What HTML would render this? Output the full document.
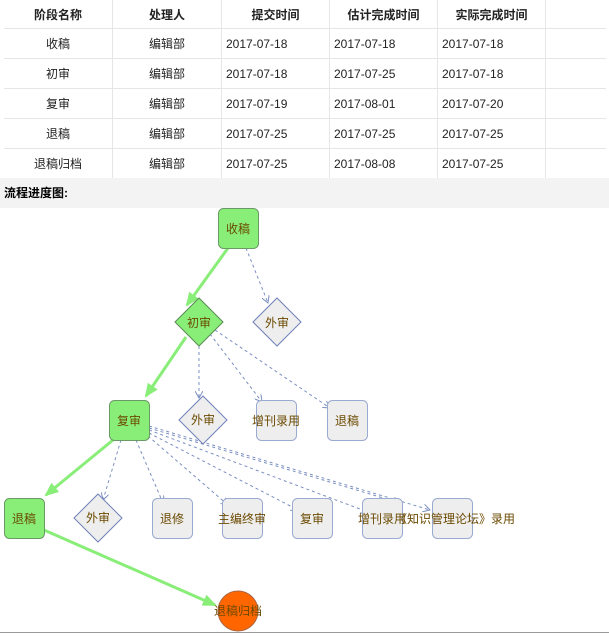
<!DOCTYPE html>
<html><head><meta charset="utf-8"><style>
body{margin:0;width:609px;height:643px;background:#fff;font-family:"Liberation Sans","Noto Sans CJK SC",sans-serif;position:relative;overflow:hidden}
table{position:absolute;left:4px;top:0;border-collapse:collapse;font-size:12px;color:#222}
td{height:29px;border-right:1px solid #e6e6e6;border-bottom:1px solid #e6e6e6;padding:0}
td.c{text-align:center}td.l{padding-left:4px}
th{height:28px;font-weight:bold;text-align:center;border-right:1px solid #e6e6e6;border-bottom:1px solid #e6e6e6;padding:0}
.band{position:absolute;left:0;top:178px;width:609px;height:30px;background:#f3f3f3;font-size:12px;font-weight:bold;line-height:30px;padding-left:4px;box-sizing:border-box}
.line{position:absolute;left:0;top:632px;width:609px;height:1px;background:#999}
svg{position:absolute;left:0;top:0}
</style></head><body>
<table>
<tr><th style="width:108px">阶段名称</th><th style="width:108px">处理人</th><th style="width:107px">提交时间</th><th style="width:107px">估计完成时间</th><th style="width:107px">实际完成时间</th><th style="width:60px;border-right:none"></th></tr>
<tr><td class="c">收稿</td><td class="c">编辑部</td><td class="l">2017-07-18</td><td class="l">2017-07-18</td><td class="l">2017-07-18</td><td style="border-right:none"></td></tr>
<tr><td class="c">初审</td><td class="c">编辑部</td><td class="l">2017-07-18</td><td class="l">2017-07-25</td><td class="l">2017-07-18</td><td style="border-right:none"></td></tr>
<tr><td class="c">复审</td><td class="c">编辑部</td><td class="l">2017-07-19</td><td class="l">2017-08-01</td><td class="l">2017-07-20</td><td style="border-right:none"></td></tr>
<tr><td class="c">退稿</td><td class="c">编辑部</td><td class="l">2017-07-25</td><td class="l">2017-07-25</td><td class="l">2017-07-25</td><td style="border-right:none"></td></tr>
<tr><td class="c">退稿归档</td><td class="c">编辑部</td><td class="l">2017-07-25</td><td class="l">2017-08-08</td><td class="l">2017-07-25</td><td style="border-right:none"></td></tr>
</table>
<div class="band">流程进度图:</div>
<div class="line"></div>
<svg width="609" height="643" font-family="Liberation Sans,Noto Sans CJK SC,sans-serif" font-size="12">
<defs>
<marker id="g" markerWidth="14" markerHeight="12" refX="12" refY="6" orient="auto" markerUnits="userSpaceOnUse"><path d="M0,0L14,6L0,12z" fill="#88ee77"/></marker>
<marker id="d" markerWidth="8" markerHeight="8" refX="7" refY="4" orient="auto" markerUnits="userSpaceOnUse"><path d="M0,0L7,4L0,8" fill="none" stroke="#7a8fc0"/></marker>
</defs>
<g stroke="#88ee77" stroke-width="3" fill="none" marker-end="url(#g)">
<line x1="228" y1="248" x2="187" y2="305"/>
<line x1="186" y1="337" x2="146" y2="396"/>
<line x1="113" y1="440" x2="46" y2="495"/>
<line x1="44" y1="530" x2="215" y2="605"/>
</g>
<g stroke="#7a8fc0" stroke-width="1" stroke-dasharray="3,3" fill="none" marker-end="url(#d)">
<line x1="246" y1="248" x2="268" y2="303"/>
<line x1="199" y1="346" x2="199" y2="398"/>
<line x1="210" y1="334" x2="262" y2="402"/>
<line x1="215" y1="330" x2="330" y2="408"/>
<line x1="121" y1="440" x2="103" y2="500"/>
<line x1="136" y1="440" x2="163" y2="503"/>
<line x1="148" y1="436" x2="228" y2="505"/>
<line x1="149" y1="433" x2="298" y2="510"/>
<line x1="149" y1="430" x2="368" y2="512"/>
<line x1="149" y1="426" x2="430" y2="510"/>
<line x1="149" y1="428" x2="400" y2="503"/>
</g>
<g stroke="#6a9a66" stroke-width="1">
<rect x="218.5" y="208.5" width="40" height="40" rx="5" fill="#88ee77"/>
<path d="M199,298L223,322L199,346L175,322z" fill="#88ee77" stroke="#5a8a55"/>
<rect x="109.5" y="400.5" width="40" height="40" rx="5" fill="#88ee77"/>
<rect x="4.5" y="498.5" width="40" height="40" rx="5" fill="#88ee77"/>
</g>
<g stroke="#6e80b8" stroke-width="1" fill="#eeeeee">
<path d="M277,298L301,322L277,346L253,322z"/>
<path d="M203,396L227,420L203,444L179,420z"/>
<rect x="256.5" y="400.5" width="40" height="40" rx="5" stroke="#9aaad0"/>
<rect x="327.5" y="400.5" width="40" height="40" rx="5" stroke="#9aaad0"/>
<path d="M98,494L122,518L98,542L74,518z"/>
<rect x="152.5" y="498.5" width="40" height="40" rx="5" stroke="#9aaad0"/>
<rect x="222.5" y="498.5" width="40" height="40" rx="5" stroke="#9aaad0"/>
<rect x="292.5" y="498.5" width="40" height="40" rx="5" stroke="#9aaad0"/>
<rect x="362.5" y="498.5" width="40" height="40" rx="5" stroke="#9aaad0"/>
<rect x="432.5" y="498.5" width="40" height="40" rx="5" stroke="#9aaad0"/>
</g>
<circle cx="238" cy="611" r="20" fill="#ff6600" stroke="#aa6644"/>
<g fill="#6b4a00" text-anchor="middle">
<text x="238" y="233">收稿</text>
<text x="199" y="327">初审</text>
<text x="277" y="327">外审</text>
<text x="129" y="425">复审</text>
<text x="203" y="424">外审</text>
<text x="276" y="425">增刊录用</text>
<text x="347" y="425">退稿</text>
<text x="24" y="523">退稿</text>
<text x="98" y="522">外审</text>
<text x="172" y="523">退修</text>
<text x="242" y="523">主编终审</text>
<text x="312" y="523">复审</text>
<text x="382" y="523">增刊录用</text>
<text x="455" y="523">《知识管理论坛》录用</text>
<text x="238" y="615">退稿归档</text>
</g>
</svg>
</body></html>
